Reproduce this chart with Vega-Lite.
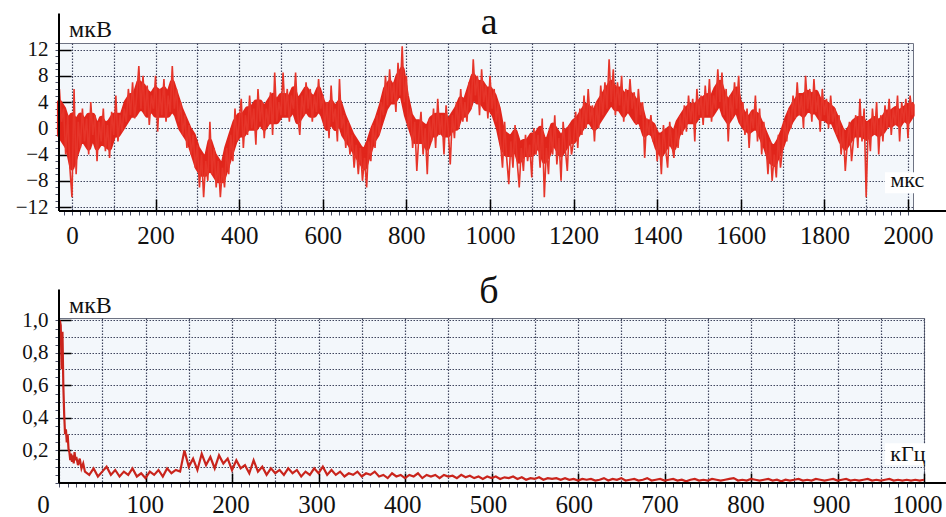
{
"$schema": "https://vega.github.io/schema/vega-lite/v6.json",
"background": "white",
"padding": {"left": 14, "top": 3, "right": 0, "bottom": 0},
"bounds": "flush",
"spacing": 107,
"config": {
  "font": "Liberation Serif",
  "view": {"fill": "#f3f7fb", "stroke": "#6e7383", "strokeWidth": 1},
  "axis": {"labelFont": "Liberation Serif", "labelColor": "#111", "labelFlush": false, "labelOverlap": false}
},
"datasets": {
"sig": [
{"t":-30,"v":6},{"t":-25,"v":1},{"t":-20,"v":3},{"t":-15,"v":-4},{"t":-10,"v":2},{"t":-5,"v":-6},{"t":0,"v":-10.5},{"t":5,"v":6},{"t":10,"v":-7},{"t":15,"v":1},{"t":20,"v":-3},{"t":25,"v":3},{"t":30,"v":-2},{"t":35,"v":1.5},{"t":40,"v":-4},{"t":45,"v":4},{"t":50,"v":-1},{"t":55,"v":2},{"t":60,"v":-5},{"t":65,"v":1},{"t":70,"v":-2},{"t":75,"v":3},{"t":80,"v":-3.5},{"t":85,"v":0.5},{"t":90,"v":-4.5},{"t":95,"v":2.5},{"t":100,"v":-1},{"t":105,"v":5},{"t":110,"v":-2},{"t":115,"v":2},{"t":120,"v":-0.5},{"t":125,"v":3},{"t":130,"v":1},{"t":135,"v":6},{"t":140,"v":2},{"t":145,"v":7},{"t":150,"v":1.5},{"t":155,"v":5},{"t":160,"v":9.5},{"t":165,"v":3},{"t":170,"v":8},{"t":175,"v":2},{"t":180,"v":6.5},{"t":185,"v":0.5},{"t":190,"v":5},{"t":195,"v":3},{"t":200,"v":8},{"t":205,"v":-0.5},{"t":210,"v":6},{"t":215,"v":2},{"t":220,"v":7.5},{"t":225,"v":1},{"t":230,"v":5},{"t":235,"v":2.5},{"t":240,"v":9.5},{"t":245,"v":3},{"t":250,"v":6},{"t":255,"v":1},{"t":260,"v":4},{"t":265,"v":-1},{"t":270,"v":2},{"t":275,"v":-3},{"t":280,"v":0.5},{"t":285,"v":-4},{"t":290,"v":-1},{"t":295,"v":-6},{"t":300,"v":-2.5},{"t":305,"v":-9},{"t":310,"v":-4},{"t":315,"v":-10.5},{"t":320,"v":-5},{"t":325,"v":-8},{"t":330,"v":1},{"t":335,"v":-7},{"t":340,"v":-3},{"t":345,"v":-9},{"t":350,"v":-5},{"t":355,"v":-10.5},{"t":360,"v":-6},{"t":365,"v":-9},{"t":370,"v":-3},{"t":375,"v":-7},{"t":380,"v":-1},{"t":385,"v":-5},{"t":390,"v":3},{"t":395,"v":-2},{"t":400,"v":1},{"t":405,"v":4.5},{"t":410,"v":-3},{"t":415,"v":2},{"t":420,"v":-1},{"t":425,"v":5},{"t":430,"v":0},{"t":435,"v":3},{"t":440,"v":-2.5},{"t":445,"v":6},{"t":450,"v":1},{"t":455,"v":4},{"t":460,"v":-1.5},{"t":465,"v":3},{"t":470,"v":0.5},{"t":475,"v":5.5},{"t":480,"v":-1},{"t":485,"v":8.5},{"t":490,"v":1},{"t":495,"v":4},{"t":500,"v":2},{"t":505,"v":8.5},{"t":510,"v":2},{"t":515,"v":6},{"t":520,"v":1},{"t":525,"v":5},{"t":530,"v":3},{"t":535,"v":8.5},{"t":540,"v":2},{"t":545,"v":-1},{"t":550,"v":5},{"t":555,"v":2},{"t":560,"v":7},{"t":565,"v":3},{"t":570,"v":6},{"t":575,"v":1},{"t":580,"v":5},{"t":585,"v":2.5},{"t":590,"v":7.5},{"t":595,"v":3},{"t":600,"v":5},{"t":605,"v":0},{"t":610,"v":4},{"t":615,"v":-1.5},{"t":620,"v":6.5},{"t":625,"v":1},{"t":630,"v":3},{"t":635,"v":-2},{"t":640,"v":7.5},{"t":645,"v":0},{"t":650,"v":2},{"t":655,"v":-3},{"t":660,"v":1},{"t":665,"v":-4},{"t":670,"v":-1},{"t":675,"v":-6},{"t":680,"v":-2.5},{"t":685,"v":-7},{"t":690,"v":-3},{"t":695,"v":-8},{"t":700,"v":-4.5},{"t":705,"v":-9},{"t":710,"v":-2},{"t":715,"v":-5},{"t":720,"v":0.5},{"t":725,"v":-3},{"t":730,"v":2},{"t":735,"v":-1},{"t":740,"v":4},{"t":745,"v":2},{"t":750,"v":8},{"t":755,"v":3.5},{"t":760,"v":9},{"t":765,"v":4},{"t":770,"v":7},{"t":775,"v":2.5},{"t":780,"v":10},{"t":785,"v":5},{"t":790,"v":12.5},{"t":795,"v":4},{"t":800,"v":8},{"t":805,"v":0},{"t":810,"v":3},{"t":815,"v":-3},{"t":820,"v":1},{"t":825,"v":-6.5},{"t":830,"v":-1},{"t":835,"v":2.5},{"t":840,"v":-4},{"t":845,"v":0},{"t":850,"v":-7},{"t":855,"v":1.5},{"t":860,"v":-2},{"t":865,"v":3},{"t":870,"v":-3},{"t":875,"v":4.5},{"t":880,"v":-1},{"t":885,"v":2},{"t":890,"v":-4},{"t":895,"v":3.5},{"t":900,"v":0},{"t":905,"v":-5.5},{"t":910,"v":2},{"t":915,"v":-1.5},{"t":920,"v":4},{"t":925,"v":0},{"t":930,"v":6},{"t":935,"v":1},{"t":940,"v":4},{"t":945,"v":1},{"t":950,"v":7},{"t":955,"v":3},{"t":960,"v":10.5},{"t":965,"v":5},{"t":970,"v":8},{"t":975,"v":2},{"t":980,"v":9},{"t":985,"v":4},{"t":990,"v":6.5},{"t":995,"v":1.5},{"t":1000,"v":8},{"t":1005,"v":3},{"t":1010,"v":6},{"t":1015,"v":1},{"t":1020,"v":4},{"t":1025,"v":-2},{"t":1030,"v":-6},{"t":1035,"v":1},{"t":1040,"v":-4.5},{"t":1045,"v":-8.5},{"t":1050,"v":-2},{"t":1055,"v":-6},{"t":1060,"v":0.5},{"t":1065,"v":-5},{"t":1070,"v":-9},{"t":1075,"v":-3},{"t":1080,"v":-6.5},{"t":1085,"v":-1},{"t":1090,"v":-5},{"t":1095,"v":-2.5},{"t":1100,"v":-7.5},{"t":1105,"v":0},{"t":1110,"v":-4},{"t":1115,"v":-1},{"t":1120,"v":-6},{"t":1125,"v":1.5},{"t":1130,"v":-10.5},{"t":1135,"v":-3},{"t":1140,"v":-7},{"t":1145,"v":0},{"t":1150,"v":-4},{"t":1155,"v":2},{"t":1160,"v":-5.5},{"t":1165,"v":-1.5},{"t":1170,"v":-8},{"t":1175,"v":1},{"t":1180,"v":-3},{"t":1185,"v":-6.5},{"t":1190,"v":0.5},{"t":1195,"v":-4},{"t":1200,"v":-2},{"t":1205,"v":2.5},{"t":1210,"v":-3},{"t":1215,"v":3},{"t":1220,"v":-1},{"t":1225,"v":5},{"t":1230,"v":0},{"t":1235,"v":6},{"t":1240,"v":1},{"t":1245,"v":3.5},{"t":1250,"v":-2},{"t":1255,"v":4},{"t":1260,"v":0},{"t":1265,"v":6.5},{"t":1270,"v":2},{"t":1275,"v":7},{"t":1280,"v":3},{"t":1285,"v":10.5},{"t":1290,"v":4},{"t":1295,"v":9},{"t":1300,"v":2},{"t":1305,"v":7},{"t":1310,"v":3.5},{"t":1315,"v":8},{"t":1320,"v":1},{"t":1325,"v":6},{"t":1330,"v":2.5},{"t":1335,"v":7.5},{"t":1340,"v":3},{"t":1345,"v":5.5},{"t":1350,"v":0.5},{"t":1355,"v":6},{"t":1360,"v":2},{"t":1365,"v":4},{"t":1370,"v":-4.5},{"t":1375,"v":1.5},{"t":1380,"v":-1},{"t":1385,"v":2},{"t":1390,"v":-2},{"t":1395,"v":0.5},{"t":1400,"v":-5},{"t":1405,"v":-1},{"t":1410,"v":-7},{"t":1415,"v":0.5},{"t":1420,"v":-3},{"t":1425,"v":-6},{"t":1430,"v":1},{"t":1435,"v":-2.5},{"t":1440,"v":-4.5},{"t":1445,"v":0},{"t":1450,"v":-3},{"t":1455,"v":2},{"t":1460,"v":-1},{"t":1465,"v":3.5},{"t":1470,"v":-0.5},{"t":1475,"v":5},{"t":1480,"v":1},{"t":1485,"v":4.5},{"t":1490,"v":-2},{"t":1495,"v":6},{"t":1500,"v":2},{"t":1505,"v":5},{"t":1510,"v":0.5},{"t":1515,"v":6.5},{"t":1520,"v":2},{"t":1525,"v":7.5},{"t":1530,"v":1},{"t":1535,"v":5},{"t":1540,"v":3},{"t":1545,"v":9},{"t":1550,"v":4},{"t":1555,"v":8.5},{"t":1560,"v":2},{"t":1565,"v":6},{"t":1570,"v":-2},{"t":1575,"v":5},{"t":1580,"v":1.5},{"t":1585,"v":7},{"t":1590,"v":3},{"t":1595,"v":8},{"t":1600,"v":0.5},{"t":1605,"v":4},{"t":1610,"v":-1},{"t":1615,"v":3},{"t":1620,"v":-3},{"t":1625,"v":2.5},{"t":1630,"v":0},{"t":1635,"v":5},{"t":1640,"v":-2},{"t":1645,"v":3},{"t":1650,"v":-4},{"t":1655,"v":1},{"t":1660,"v":-2},{"t":1665,"v":-7},{"t":1670,"v":-2},{"t":1675,"v":-8},{"t":1680,"v":-4},{"t":1685,"v":-7.5},{"t":1690,"v":-1},{"t":1695,"v":-6},{"t":1700,"v":-3},{"t":1705,"v":1},{"t":1710,"v":-2},{"t":1715,"v":3},{"t":1720,"v":0},{"t":1725,"v":5},{"t":1730,"v":1.5},{"t":1735,"v":7},{"t":1740,"v":2},{"t":1745,"v":5},{"t":1750,"v":0},{"t":1755,"v":8},{"t":1760,"v":3},{"t":1765,"v":6},{"t":1770,"v":1},{"t":1775,"v":7.5},{"t":1780,"v":2.5},{"t":1785,"v":5},{"t":1790,"v":-0.5},{"t":1795,"v":6},{"t":1800,"v":2},{"t":1805,"v":4.5},{"t":1810,"v":0},{"t":1815,"v":5},{"t":1820,"v":1},{"t":1825,"v":3},{"t":1830,"v":-1},{"t":1835,"v":2},{"t":1840,"v":-4},{"t":1845,"v":0},{"t":1850,"v":-6.5},{"t":1855,"v":-2},{"t":1860,"v":1},{"t":1865,"v":-5},{"t":1870,"v":-1.5},{"t":1875,"v":2},{"t":1880,"v":-3},{"t":1885,"v":4.5},{"t":1890,"v":-2},{"t":1895,"v":3},{"t":1900,"v":-10.5},{"t":1905,"v":1},{"t":1910,"v":-3.5},{"t":1915,"v":3},{"t":1920,"v":-1},{"t":1925,"v":4},{"t":1930,"v":-4},{"t":1935,"v":2},{"t":1940,"v":-2},{"t":1945,"v":3.5},{"t":1950,"v":0},{"t":1955,"v":4.5},{"t":1960,"v":-1},{"t":1965,"v":3},{"t":1970,"v":0.5},{"t":1975,"v":5},{"t":1980,"v":-2},{"t":1985,"v":4},{"t":1990,"v":1},{"t":1995,"v":4.5},{"t":2000,"v":-1.5},{"t":2005,"v":5},{"t":2010,"v":2},{"t":2012,"v":4}
],
"band": [
{"t":-30,"lo":-1,"hi":4},{"t":-20,"lo":-2,"hi":3},{"t":-10,"lo":-3,"hi":1},{"t":0,"lo":-6,"hi":2},{"t":10,"lo":-4,"hi":1},{"t":20,"lo":-2,"hi":2},{"t":30,"lo":-2,"hi":1},{"t":40,"lo":-3,"hi":2},{"t":50,"lo":-1,"hi":2},{"t":60,"lo":-3,"hi":0},{"t":70,"lo":-2,"hi":1.5},{"t":80,"lo":-2.5,"hi":0.5},{"t":90,"lo":-3,"hi":1},{"t":100,"lo":-1,"hi":2},{"t":110,"lo":-1,"hi":2},{"t":120,"lo":0,"hi":2},{"t":130,"lo":1,"hi":4},{"t":140,"lo":2,"hi":5},{"t":150,"lo":2,"hi":5},{"t":160,"lo":3,"hi":7},{"t":170,"lo":3,"hi":6.5},{"t":180,"lo":2,"hi":5.5},{"t":190,"lo":3,"hi":5},{"t":200,"lo":2,"hi":6},{"t":210,"lo":2,"hi":5.5},{"t":220,"lo":2,"hi":6},{"t":230,"lo":2,"hi":5},{"t":240,"lo":3,"hi":7},{"t":250,"lo":2,"hi":5},{"t":260,"lo":0,"hi":3},{"t":270,"lo":-1,"hi":1.5},{"t":280,"lo":-2,"hi":0},{"t":290,"lo":-4,"hi":-1},{"t":300,"lo":-6,"hi":-3},{"t":310,"lo":-7,"hi":-4},{"t":320,"lo":-7,"hi":-5},{"t":330,"lo":-6,"hi":-2},{"t":340,"lo":-7,"hi":-4},{"t":350,"lo":-8,"hi":-5},{"t":360,"lo":-8,"hi":-6},{"t":370,"lo":-6,"hi":-3},{"t":380,"lo":-4,"hi":-1},{"t":390,"lo":-2,"hi":1},{"t":400,"lo":-1,"hi":2},{"t":410,"lo":-1,"hi":2},{"t":420,"lo":0,"hi":3},{"t":430,"lo":0,"hi":3},{"t":440,"lo":0,"hi":4},{"t":450,"lo":1,"hi":4},{"t":460,"lo":0,"hi":3},{"t":470,"lo":1,"hi":4},{"t":480,"lo":1,"hi":5},{"t":490,"lo":1,"hi":4},{"t":500,"lo":2,"hi":5},{"t":510,"lo":2,"hi":5},{"t":520,"lo":2,"hi":4.5},{"t":530,"lo":3,"hi":6},{"t":540,"lo":1,"hi":4},{"t":550,"lo":2,"hi":5},{"t":560,"lo":3,"hi":6},{"t":570,"lo":2,"hi":5},{"t":580,"lo":2,"hi":4.5},{"t":590,"lo":3,"hi":6},{"t":600,"lo":2,"hi":4},{"t":610,"lo":0,"hi":3},{"t":620,"lo":1,"hi":4},{"t":630,"lo":0,"hi":3},{"t":640,"lo":1,"hi":4},{"t":650,"lo":-1,"hi":2},{"t":660,"lo":-2,"hi":0.5},{"t":670,"lo":-3,"hi":-1},{"t":680,"lo":-4,"hi":-2},{"t":690,"lo":-5,"hi":-3},{"t":700,"lo":-6,"hi":-3.5},{"t":710,"lo":-4,"hi":-2},{"t":720,"lo":-2,"hi":0},{"t":730,"lo":-1,"hi":1.5},{"t":740,"lo":1,"hi":3.5},{"t":750,"lo":3,"hi":6},{"t":760,"lo":4,"hi":7},{"t":770,"lo":4,"hi":6},{"t":780,"lo":5,"hi":8},{"t":790,"lo":5,"hi":9},{"t":800,"lo":2,"hi":5},{"t":810,"lo":0,"hi":2},{"t":820,"lo":-2,"hi":1},{"t":830,"lo":-2,"hi":1},{"t":840,"lo":-2,"hi":0.5},{"t":850,"lo":-3,"hi":0},{"t":860,"lo":-1,"hi":1.5},{"t":870,"lo":-1,"hi":2},{"t":880,"lo":0,"hi":2},{"t":890,"lo":-1,"hi":2},{"t":900,"lo":-1,"hi":1},{"t":910,"lo":0,"hi":2},{"t":920,"lo":0,"hi":3},{"t":930,"lo":2,"hi":4.5},{"t":940,"lo":2,"hi":4},{"t":950,"lo":3,"hi":6},{"t":960,"lo":5,"hi":8},{"t":970,"lo":4,"hi":7},{"t":980,"lo":4,"hi":7},{"t":990,"lo":3,"hi":6},{"t":1000,"lo":3,"hi":6},{"t":1010,"lo":2,"hi":5},{"t":1020,"lo":0,"hi":3},{"t":1030,"lo":-3,"hi":-0.5},{"t":1040,"lo":-4,"hi":-1},{"t":1050,"lo":-4,"hi":-1.5},{"t":1060,"lo":-3,"hi":-0.5},{"t":1070,"lo":-5,"hi":-2.5},{"t":1080,"lo":-4,"hi":-2},{"t":1090,"lo":-4,"hi":-2},{"t":1100,"lo":-4,"hi":-1},{"t":1110,"lo":-3,"hi":-1},{"t":1120,"lo":-3,"hi":0},{"t":1130,"lo":-5,"hi":-2},{"t":1140,"lo":-4,"hi":-1.5},{"t":1150,"lo":-2,"hi":0.5},{"t":1160,"lo":-3,"hi":-0.5},{"t":1170,"lo":-4,"hi":-1.5},{"t":1180,"lo":-3,"hi":-0.5},{"t":1190,"lo":-2,"hi":0},{"t":1200,"lo":-2,"hi":1},{"t":1210,"lo":-1,"hi":1.5},{"t":1220,"lo":0,"hi":2.5},{"t":1230,"lo":1,"hi":3.5},{"t":1240,"lo":1,"hi":3},{"t":1250,"lo":0,"hi":2.5},{"t":1260,"lo":1,"hi":4},{"t":1270,"lo":2,"hi":5},{"t":1280,"lo":3,"hi":6},{"t":1290,"lo":4,"hi":7},{"t":1300,"lo":3,"hi":6},{"t":1310,"lo":3,"hi":6},{"t":1320,"lo":2,"hi":5},{"t":1330,"lo":3,"hi":5.5},{"t":1340,"lo":2,"hi":5},{"t":1350,"lo":1,"hi":4},{"t":1360,"lo":1,"hi":3.5},{"t":1370,"lo":-1,"hi":1},{"t":1380,"lo":-0.5,"hi":1},{"t":1390,"lo":-1,"hi":0.5},{"t":1400,"lo":-3,"hi":-1},{"t":1410,"lo":-4,"hi":-1},{"t":1420,"lo":-3,"hi":-0.5},{"t":1430,"lo":-2,"hi":0},{"t":1440,"lo":-3,"hi":-1},{"t":1450,"lo":-1,"hi":1},{"t":1460,"lo":0,"hi":2},{"t":1470,"lo":1,"hi":3},{"t":1480,"lo":1,"hi":3.5},{"t":1490,"lo":1,"hi":3.5},{"t":1500,"lo":2,"hi":4},{"t":1510,"lo":2,"hi":4.5},{"t":1520,"lo":2,"hi":5},{"t":1530,"lo":2,"hi":4.5},{"t":1540,"lo":3,"hi":6},{"t":1550,"lo":4,"hi":7},{"t":1560,"lo":2,"hi":5},{"t":1570,"lo":1,"hi":4},{"t":1580,"lo":2,"hi":5},{"t":1590,"lo":3,"hi":6},{"t":1600,"lo":1,"hi":3},{"t":1610,"lo":0,"hi":2},{"t":1620,"lo":-0.5,"hi":1.5},{"t":1630,"lo":0,"hi":2.5},{"t":1640,"lo":0,"hi":2},{"t":1650,"lo":-1.5,"hi":0.5},{"t":1660,"lo":-3,"hi":-1},{"t":1670,"lo":-5,"hi":-2.5},{"t":1680,"lo":-5.5,"hi":-3},{"t":1690,"lo":-4,"hi":-2},{"t":1700,"lo":-2.5,"hi":-0.5},{"t":1710,"lo":-0.5,"hi":1.5},{"t":1720,"lo":1,"hi":3},{"t":1730,"lo":2,"hi":4},{"t":1740,"lo":2.5,"hi":5},{"t":1750,"lo":2,"hi":5},{"t":1760,"lo":3,"hi":5.5},{"t":1770,"lo":2.5,"hi":5},{"t":1780,"lo":2.5,"hi":5.5},{"t":1790,"lo":1.5,"hi":4},{"t":1800,"lo":1.5,"hi":4},{"t":1810,"lo":1,"hi":3.5},{"t":1820,"lo":1,"hi":3},{"t":1830,"lo":-0.5,"hi":1.5},{"t":1840,"lo":-2,"hi":0},{"t":1850,"lo":-3,"hi":-1},{"t":1860,"lo":-2,"hi":0},{"t":1870,"lo":-1,"hi":1},{"t":1880,"lo":-1,"hi":1.5},{"t":1890,"lo":-1,"hi":1.5},{"t":1900,"lo":-1.5,"hi":0.5},{"t":1910,"lo":-1,"hi":1},{"t":1920,"lo":-0.5,"hi":1.5},{"t":1930,"lo":-1,"hi":1},{"t":1940,"lo":-0.5,"hi":1.5},{"t":1950,"lo":0.5,"hi":2.5},{"t":1960,"lo":0.5,"hi":2.5},{"t":1970,"lo":1,"hi":3},{"t":1980,"lo":0.5,"hi":2.5},{"t":1990,"lo":1.5,"hi":3},{"t":2000,"lo":1,"hi":3.5},{"t":2010,"lo":2,"hi":3.5}
],
"spec": [
{"f":1,"a":1.0},{"f":2,"a":0.97},{"f":3,"a":0.7},{"f":4,"a":0.93},{"f":5,"a":0.6},{"f":6,"a":0.42},{"f":7,"a":0.3},{"f":8,"a":0.33},{"f":9,"a":0.25},{"f":10,"a":0.3},{"f":11,"a":0.21},{"f":12,"a":0.19},{"f":13,"a":0.14},{"f":14,"a":0.18},{"f":15,"a":0.13},{"f":16,"a":0.17},{"f":17,"a":0.12},{"f":18,"a":0.19},{"f":19,"a":0.14},{"f":20,"a":0.16},{"f":22,"a":0.11},{"f":24,"a":0.15},{"f":26,"a":0.09},{"f":28,"a":0.12},{"f":30,"a":0.07},
{"f":35,"a":0.05},{"f":40,"a":0.09},{"f":45,"a":0.04},{"f":50,"a":0.07},{"f":55,"a":0.1},{"f":60,"a":0.05},{"f":65,"a":0.08},{"f":70,"a":0.04},{"f":75,"a":0.07},{"f":80,"a":0.05},{"f":85,"a":0.09},{"f":90,"a":0.04},{"f":95,"a":0.06},{"f":100,"a":0.03},{"f":105,"a":0.07},{"f":110,"a":0.05},{"f":115,"a":0.08},{"f":120,"a":0.04},{"f":125,"a":0.09},{"f":130,"a":0.06},{"f":135,"a":0.08},{"f":140,"a":0.07},{"f":145,"a":0.2},{"f":150,"a":0.1},{"f":155,"a":0.15},{"f":160,"a":0.08},{"f":165,"a":0.18},{"f":170,"a":0.11},{"f":175,"a":0.16},{"f":180,"a":0.09},{"f":185,"a":0.17},{"f":190,"a":0.12},{"f":195,"a":0.15},{"f":200,"a":0.08},{"f":205,"a":0.14},{"f":210,"a":0.09},{"f":215,"a":0.11},{"f":220,"a":0.06},{"f":225,"a":0.14},{"f":230,"a":0.07},{"f":235,"a":0.1},{"f":240,"a":0.05},{"f":245,"a":0.09},{"f":250,"a":0.06},{"f":255,"a":0.08},{"f":260,"a":0.05},{"f":265,"a":0.09},{"f":270,"a":0.06},{"f":275,"a":0.08},{"f":280,"a":0.04},{"f":285,"a":0.07},{"f":290,"a":0.05},{"f":295,"a":0.09},{"f":300,"a":0.06},{"f":305,"a":0.1},{"f":310,"a":0.05},{"f":315,"a":0.08},{"f":320,"a":0.05},{"f":325,"a":0.07},{"f":330,"a":0.04},{"f":335,"a":0.06},{"f":340,"a":0.05},{"f":345,"a":0.07},{"f":350,"a":0.04},{"f":355,"a":0.06},{"f":360,"a":0.05},{"f":365,"a":0.07},{"f":370,"a":0.04},{"f":375,"a":0.05},{"f":380,"a":0.03},{"f":385,"a":0.06},{"f":390,"a":0.04},{"f":395,"a":0.05},{"f":400,"a":0.03},{"f":405,"a":0.05},{"f":410,"a":0.04},{"f":415,"a":0.06},{"f":420,"a":0.03},{"f":425,"a":0.05},{"f":430,"a":0.04},{"f":435,"a":0.05},{"f":440,"a":0.03},{"f":445,"a":0.05},{"f":450,"a":0.04},{"f":455,"a":0.045},{"f":460,"a":0.03},{"f":465,"a":0.05},{"f":470,"a":0.035},{"f":475,"a":0.045},{"f":480,"a":0.03},{"f":485,"a":0.04},{"f":490,"a":0.025},{"f":495,"a":0.04},{"f":500,"a":0.03},{"f":505,"a":0.04},{"f":510,"a":0.025},{"f":515,"a":0.035},{"f":520,"a":0.03},{"f":525,"a":0.04},{"f":530,"a":0.025},{"f":535,"a":0.035},{"f":540,"a":0.02},{"f":545,"a":0.03},{"f":550,"a":0.025},{"f":555,"a":0.035},{"f":560,"a":0.02},{"f":565,"a":0.03},{"f":570,"a":0.025},{"f":575,"a":0.03},{"f":580,"a":0.02},{"f":585,"a":0.03},{"f":590,"a":0.02},{"f":595,"a":0.025},{"f":600,"a":0.015},{"f":605,"a":0.025},{"f":610,"a":0.02},
{"f":615,"a":0.025},{"f":620,"a":0.015},{"f":625,"a":0.02},{"f":630,"a":0.03},{"f":635,"a":0.015},{"f":640,"a":0.025},{"f":645,"a":0.02},{"f":650,"a":0.03},{"f":655,"a":0.015},{"f":660,"a":0.02},{"f":665,"a":0.025},{"f":670,"a":0.015},{"f":675,"a":0.02},{"f":680,"a":0.03},{"f":685,"a":0.015},{"f":690,"a":0.02},{"f":695,"a":0.025},{"f":700,"a":0.015},{"f":705,"a":0.02},{"f":710,"a":0.025},{"f":715,"a":0.015},{"f":720,"a":0.02},{"f":725,"a":0.01},{"f":730,"a":0.02},{"f":735,"a":0.025},{"f":740,"a":0.015},{"f":745,"a":0.02},{"f":750,"a":0.015},{"f":755,"a":0.025},{"f":760,"a":0.02},{"f":765,"a":0.015},{"f":770,"a":0.02},{"f":775,"a":0.025},{"f":780,"a":0.03},{"f":785,"a":0.015},{"f":790,"a":0.02},{"f":795,"a":0.015},{"f":800,"a":0.025},{"f":805,"a":0.02},{"f":810,"a":0.015},{"f":815,"a":0.02},{"f":820,"a":0.025},{"f":825,"a":0.015},{"f":830,"a":0.02},{"f":835,"a":0.01},{"f":840,"a":0.02},{"f":845,"a":0.015},{"f":850,"a":0.02},{"f":855,"a":0.025},{"f":860,"a":0.015},{"f":865,"a":0.02},{"f":870,"a":0.015},{"f":875,"a":0.025},{"f":880,"a":0.02},{"f":885,"a":0.015},{"f":890,"a":0.02},{"f":895,"a":0.025},{"f":900,"a":0.015},{"f":905,"a":0.02},{"f":910,"a":0.025},{"f":915,"a":0.015},{"f":920,"a":0.02},{"f":925,"a":0.015},{"f":930,"a":0.02},{"f":935,"a":0.025},{"f":940,"a":0.015},{"f":945,"a":0.02},{"f":950,"a":0.015},{"f":955,"a":0.02},{"f":960,"a":0.025},{"f":965,"a":0.015},{"f":970,"a":0.02},{"f":975,"a":0.015},{"f":980,"a":0.02},{"f":985,"a":0.015},{"f":990,"a":0.02},{"f":995,"a":0.015},{"f":1000,"a":0.02}
]
},
"vconcat": [
{
  "width": 854,
  "height": 168,
  "resolve": {"axis": {"x": "independent", "y": "independent"}},
  "layer": [
    {
      "data": {"name": "band"},
      "mark": {"type": "area", "fill": "#e1251b", "stroke": "#e1251b", "strokeWidth": 5, "strokeJoin": "round"},
      "encoding": {
        "x": {"field": "t", "type": "quantitative", "scale": {"domain": [-31, 2012], "nice": false, "zero": false},
          "axis": {"orient": "bottom", "title": null, "values": [0,100,200,300,400,500,600,700,800,900,1000,1100,1200,1300,1400,1500,1600,1700,1800,1900,2000], "grid": true, "gridColor": "#40465f", "gridDash": [1.5, 1.5], "gridWidth": 1.2, "ticks": false, "labels": false, "domain": false}},
        "y": {"field": "lo", "type": "quantitative", "scale": {"domain": [-12.6, 13], "nice": false, "zero": false},
          "axis": {"orient": "left", "title": null, "values": [-12,-8,-4,0,4,8,12], "grid": true, "gridColor": "#40465f", "gridDash": [1.5, 1.5], "gridWidth": 1.2, "ticks": false, "labels": false, "domain": false}},
        "y2": {"field": "hi"}
      }
    },
    {
      "data": {"name": "sig"},
      "mark": {"type": "line", "stroke": "#e6352a", "strokeWidth": 1.6},
      "encoding": {
        "x": {"field": "t", "type": "quantitative", "scale": {"domain": [-31, 2012], "nice": false, "zero": false}, "axis": null},
        "y": {"field": "v", "type": "quantitative", "scale": {"domain": [-12.6, 13], "nice": false, "zero": false}, "axis": null}
      }
    },
    {
      "data": {"values": [{}]},
      "mark": {"type": "rule", "stroke": "#000", "strokeWidth": 2},
      "encoding": {
        "x": {"datum": -31, "type": "quantitative", "scale": {"domain": [-31, 2012], "nice": false, "zero": false},
          "axis": {"orient": "bottom", "title": null, "values": [200,400,600,800,1000,1200,1400,1600,1800,2000], "grid": false, "ticks": true, "tickSize": -12, "tickWidth": 1.5, "tickColor": "#000", "labels": false, "domain": false}},
        "y": {"datum": -12.6, "type": "quantitative", "scale": {"domain": [-12.6, 13], "nice": false, "zero": false},
          "axis": {"orient": "left", "title": null, "values": [-12,-8,-4,0,4,8,12], "grid": false, "ticks": true, "tickSize": -12, "tickWidth": 1.5, "tickColor": "#000", "labels": false, "domain": false}},
        "y2": {"datum": 17.5}
      }
    },
    {
      "data": {"values": [{}]},
      "mark": {"type": "rule", "stroke": "#000", "strokeWidth": 2},
      "encoding": {
        "x": {"datum": -31, "type": "quantitative", "scale": {"domain": [-31, 2012], "nice": false, "zero": false},
          "axis": {"orient": "bottom", "title": null, "values": [0,200,400,600,800,1000,1200,1400,1600,1800,2000], "format": "d", "grid": false, "ticks": false, "labels": true, "labelFontSize": 25, "labelPadding": 12, "domain": false}},
        "x2": {"datum": 2093},
        "y": {"datum": -12.6, "type": "quantitative", "scale": {"domain": [-12.6, 13], "nice": false, "zero": false},
          "axis": {"orient": "left", "title": null, "values": [-12,-8,-4,0,4,8,12], "format": "d", "grid": false, "ticks": false, "labels": true, "labelFontSize": 21, "labelPadding": 11, "domain": false}}
      }
    },
    {
      "data": {"values": [{}]},
      "mark": {"type": "text", "text": "мкВ", "fontSize": 24, "align": "left", "baseline": "alphabetic", "fill": "#111"},
      "encoding": {
        "x": {"datum": -7, "type": "quantitative", "scale": {"domain": [-31, 2012], "nice": false, "zero": false},
          "axis": {"orient": "bottom", "title": null, "tickCount": 100, "grid": false, "ticks": true, "tickSize": 4, "tickColor": "#4a4f66", "tickWidth": 1, "labels": false, "domain": false}},
        "y": {"datum": 13.97, "type": "quantitative", "scale": {"domain": [-12.6, 13], "nice": false, "zero": false},
          "axis": {"orient": "left", "title": null, "tickCount": 25, "grid": false, "ticks": true, "tickSize": 4, "tickColor": "#4a4f66", "tickWidth": 1, "labels": false, "domain": false}}
      }
    },
    {
      "data": {"values": [{}]},
      "mark": {"type": "text", "text": "а", "fontSize": 38, "align": "center", "baseline": "alphabetic", "fill": "#111"},
      "encoding": {
        "x": {"datum": 998, "type": "quantitative", "scale": {"domain": [-31, 2012], "nice": false, "zero": false}, "axis": null},
        "y": {"datum": 14.43, "type": "quantitative", "scale": {"domain": [-12.6, 13], "nice": false, "zero": false}, "axis": null}
      }
    },
    {
      "data": {"values": [{}]},
      "mark": {"type": "rect", "fill": "white"},
      "encoding": {
        "x": {"datum": 1945, "type": "quantitative", "scale": {"domain": [-31, 2012], "nice": false, "zero": false}, "axis": null},
        "x2": {"datum": 2062},
        "y": {"datum": -6.7, "type": "quantitative", "scale": {"domain": [-12.6, 13], "nice": false, "zero": false}, "axis": null},
        "y2": {"datum": -9.9}
      }
    },
    {
      "data": {"values": [{}]},
      "mark": {"type": "text", "text": "мкс", "fontSize": 22, "align": "left", "baseline": "alphabetic", "fill": "#111"},
      "encoding": {
        "x": {"datum": 1958, "type": "quantitative", "scale": {"domain": [-31, 2012], "nice": false, "zero": false}, "axis": null},
        "y": {"datum": -8.96, "type": "quantitative", "scale": {"domain": [-12.6, 13], "nice": false, "zero": false}, "axis": null}
      }
    }
  ]
},
{
  "width": 865,
  "height": 165,
  "resolve": {"axis": {"x": "independent", "y": "independent"}},
  "layer": [
    {
      "data": {"name": "spec"},
      "mark": {"type": "line", "stroke": "#c9241c", "strokeWidth": 2.2},
      "encoding": {
        "x": {"field": "f", "type": "quantitative", "scale": {"domain": [0, 1000], "nice": false, "zero": false},
          "axis": {"orient": "bottom", "title": null, "values": [0,50,100,150,200,250,300,350,400,450,500,550,600,650,700,750,800,850,900,950,1000], "grid": true, "gridColor": "#40465f", "gridDash": [1.5, 1.5], "gridWidth": 1.2, "ticks": false, "labels": false, "domain": false}},
        "y": {"field": "a", "type": "quantitative", "scale": {"domain": [0, 1.015], "nice": false, "zero": false},
          "axis": {"orient": "left", "title": null, "values": [0.1,0.2,0.3,0.4,0.5,0.6,0.7,0.8,0.9,1.0], "grid": true, "gridColor": "#40465f", "gridDash": [1.5, 1.5], "gridWidth": 1.2, "ticks": false, "labels": false, "domain": false}}
      }
    },
    {
      "data": {"values": [{}]},
      "mark": {"type": "rule", "stroke": "#000", "strokeWidth": 2},
      "encoding": {
        "x": {"datum": 0, "type": "quantitative", "scale": {"domain": [0, 1000], "nice": false, "zero": false},
          "axis": {"orient": "bottom", "title": null, "values": [100,200,300,400,500,600,700,800,900,1000], "grid": false, "ticks": true, "tickSize": -10, "tickWidth": 1.5, "tickColor": "#000", "labels": false, "domain": false}},
        "y": {"datum": 0, "type": "quantitative", "scale": {"domain": [0, 1.015], "nice": false, "zero": false},
          "axis": {"orient": "left", "title": null, "values": [0.2,0.4,0.6,0.8,1.0], "grid": false, "ticks": true, "tickSize": -12, "tickWidth": 1.5, "tickColor": "#000", "labels": false, "domain": false}},
        "y2": {"datum": 1.19}
      }
    },
    {
      "data": {"values": [{}]},
      "mark": {"type": "rule", "stroke": "#000", "strokeWidth": 2},
      "encoding": {
        "x": {"datum": 0, "type": "quantitative", "scale": {"domain": [0, 1000], "nice": false, "zero": false},
          "axis": {"orient": "bottom", "title": null, "values": [0,100,200,300,400,500,600,700,800,900,1000], "format": "d", "grid": false, "ticks": false, "labels": true, "labelFontSize": 25, "labelPadding": 9, "labelOffset": {"expr": "datum.value == 0 ? -16 : -0.007 * datum.value"}, "domain": false}},
        "x2": {"datum": 1026},
        "y": {"datum": 0, "type": "quantitative", "scale": {"domain": [0, 1.015], "nice": false, "zero": false},
          "axis": {"orient": "left", "title": null, "values": [0.2,0.4,0.6,0.8,1.0], "labelExpr": "replace(format(datum.value, '.1f'), '.', ',')", "grid": false, "ticks": false, "labels": true, "labelFontSize": 21, "labelPadding": 11, "domain": false}}
      }
    },
    {
      "data": {"values": [{}]},
      "mark": {"type": "text", "text": "мкВ", "fontSize": 24, "align": "left", "baseline": "alphabetic", "fill": "#111"},
      "encoding": {
        "x": {"datum": 11.5, "type": "quantitative", "scale": {"domain": [0, 1000], "nice": false, "zero": false},
          "axis": {"orient": "bottom", "title": null, "tickCount": 100, "grid": false, "ticks": true, "tickSize": 4, "tickColor": "#4a4f66", "tickWidth": 1, "labels": false, "domain": false}},
        "y": {"datum": 1.047, "type": "quantitative", "scale": {"domain": [0, 1.015], "nice": false, "zero": false},
          "axis": {"orient": "left", "title": null, "tickCount": 20, "grid": false, "ticks": true, "tickSize": 4, "tickColor": "#4a4f66", "tickWidth": 1, "labels": false, "domain": false}}
      }
    },
    {
      "data": {"values": [{}]},
      "mark": {"type": "text", "text": "б", "fontSize": 38, "align": "center", "baseline": "alphabetic", "fill": "#111"},
      "encoding": {
        "x": {"datum": 497, "type": "quantitative", "scale": {"domain": [0, 1000], "nice": false, "zero": false}, "axis": null},
        "y": {"datum": 1.108, "type": "quantitative", "scale": {"domain": [0, 1.015], "nice": false, "zero": false}, "axis": null}
      }
    },
    {
      "data": {"values": [{}]},
      "mark": {"type": "rect", "fill": "white"},
      "encoding": {
        "x": {"datum": 955, "type": "quantitative", "scale": {"domain": [0, 1000], "nice": false, "zero": false}, "axis": null},
        "x2": {"datum": 1013},
        "y": {"datum": 0.245, "type": "quantitative", "scale": {"domain": [0, 1.015], "nice": false, "zero": false}, "axis": null},
        "y2": {"datum": 0.11}
      }
    },
    {
      "data": {"values": [{}]},
      "mark": {"type": "text", "text": "кГц", "fontSize": 22, "align": "left", "baseline": "alphabetic", "fill": "#111"},
      "encoding": {
        "x": {"datum": 961, "type": "quantitative", "scale": {"domain": [0, 1000], "nice": false, "zero": false}, "axis": null},
        "y": {"datum": 0.135, "type": "quantitative", "scale": {"domain": [0, 1.015], "nice": false, "zero": false}, "axis": null}
      }
    }
  ]
}
]
}
